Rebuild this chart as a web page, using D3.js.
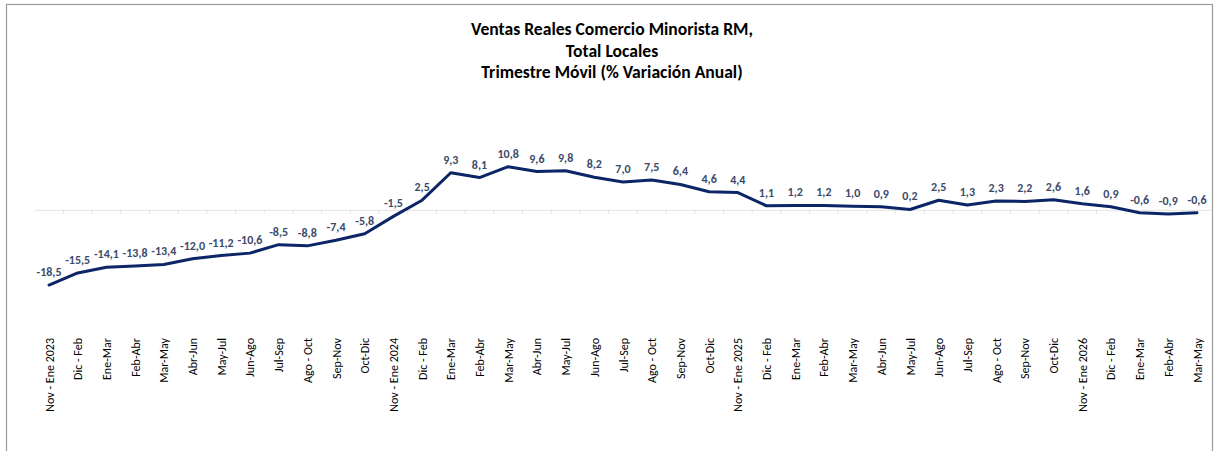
<!DOCTYPE html>
<html>
<head>
<meta charset="utf-8">
<script src="https://cdn.jsdelivr.net/npm/d3@7"></script>
<style>
  html, body { margin: 0; padding: 0; background: #fff; }
  svg { display: block; }
</style>
</head>
<body>
<svg id="chart" width="1214" height="451"></svg>
<script>
const categories = [
  "Nov - Ene 2023","Dic - Feb","Ene-Mar","Feb-Abr","Mar-May","Abr-Jun","May-Jul","Jun-Ago","Jul-Sep","Ago - Oct","Sep-Nov","Oct-Dic",
  "Nov - Ene 2024","Dic - Feb","Ene-Mar","Feb-Abr","Mar-May","Abr-Jun","May-Jul","Jun-Ago","Jul-Sep","Ago - Oct","Sep-Nov","Oct-Dic",
  "Nov - Ene 2025","Dic - Feb","Ene-Mar","Feb-Abr","Mar-May","Abr-Jun","May-Jul","Jun-Ago","Jul-Sep","Ago - Oct","Sep-Nov","Oct-Dic",
  "Nov - Ene 2026","Dic - Feb","Ene-Mar","Feb-Abr","Mar-May"
];
const values = [
  -18.5,-15.5,-14.1,-13.8,-13.4,-12.0,-11.2,-10.6,-8.5,-8.8,-7.4,-5.8,
  -1.5,2.5,9.3,8.1,10.8,9.6,9.8,8.2,7.0,7.5,6.4,4.6,
  4.4,1.1,1.2,1.2,1.0,0.9,0.2,2.5,1.3,2.3,2.2,2.6,
  1.6,0.9,-0.6,-0.9,-0.6
];
const titleLines = ["Ventas Reales Comercio Minorista RM,","Total Locales","Trimestre Móvil (% Variación Anual)"];
const yDomain = [-30, 20];

const svg = d3.select("#chart");
const FONT = "Carlito, Calibri, 'Liberation Sans', sans-serif";

// border
svg.append("rect").attr("x", 6.5).attr("y", 4.5).attr("width", 1206).attr("height", 460)
  .attr("fill", "none").attr("stroke", "#9a9a9a").attr("stroke-width", 1.2);

// title
const title = svg.append("text").attr("x", 612).attr("y", 35)
  .attr("text-anchor", "middle").attr("font-family", FONT).attr("font-weight", "bold")
  .attr("font-size", 17.6).attr("fill", "#000");
titleLines.forEach((t, i) => {
  title.append("tspan").attr("x", 612).attr("dy", i === 0 ? 0 : 21.6).text(t);
});

const idx = categories.map((_, i) => i);
const x = d3.scaleBand().domain(idx).range([34.65, 1211.35]).paddingInner(0).paddingOuter(0);
const y = d3.scaleLinear().domain(yDomain).range([331.5, 129.5]);
const cx = i => x(i) + x.bandwidth() / 2;

// zero axis with tick marks at category boundaries
const zeroY = y(0);
svg.append("line").attr("x1", x.range()[0]).attr("x2", x.range()[1])
  .attr("y1", zeroY).attr("y2", zeroY).attr("stroke", "#e3e3e3").attr("stroke-width", 1);
svg.append("g").selectAll("line").data(idx.slice(1)).join("line")
  .attr("x1", d => x(d)).attr("x2", d => x(d))
  .attr("y1", zeroY).attr("y2", zeroY + 4)
  .attr("stroke", "#e3e3e3").attr("stroke-width", 1);

// line
const line = d3.line().x((d, i) => cx(i)).y(d => y(d));
svg.append("path").datum(values).attr("d", line)
  .attr("fill", "none").attr("stroke", "#0b2566").attr("stroke-width", 3)
  .attr("stroke-linejoin", "round").attr("stroke-linecap", "round");

// value labels
const fmt = v => v.toFixed(1).replace(".", ",");
svg.append("g").selectAll("text").data(values).join("text")
  .attr("x", (d, i) => cx(i)).attr("y", d => y(d) - 9)
  .attr("text-anchor", "middle").attr("font-family", FONT).attr("font-weight", "bold")
  .attr("font-size", 12).attr("fill", "#3a4a6b").text(fmt);

// category labels (rotated)
svg.append("g").selectAll("text").data(categories).join("text")
  .attr("transform", (d, i) => `translate(${cx(i) + 4.5},338) rotate(-90)`)
  .attr("text-anchor", "end").attr("font-family", FONT)
  .attr("font-size", 12).attr("fill", "#000").text(d => d);
</script>
</body>
</html>
